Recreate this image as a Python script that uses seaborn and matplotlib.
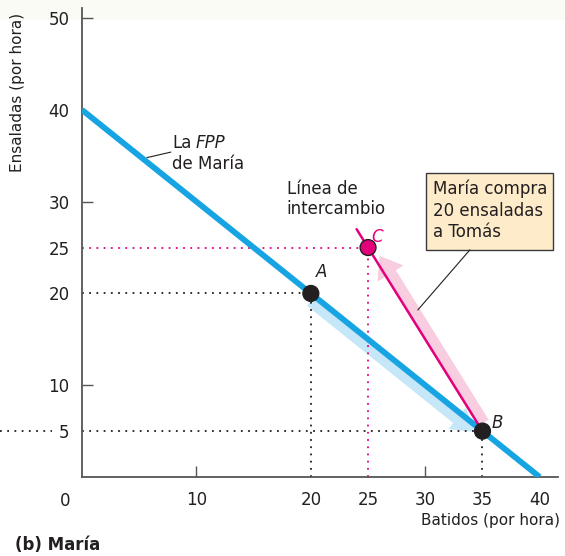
import pandas as pd
import matplotlib.pyplot as plt
import seaborn as sns
from matplotlib.patches import Rectangle

# FPP de María
ppf_batidos = [0, 40]
ppf_ensaladas = [40, 0]

# línea de intercambio (de B hasta un poco más allá de C)
trade_batidos = [35, 24]
trade_ensaladas = [5, 27]

point_names = ['A', 'B', 'C']
point_batidos = [20, 35, 25]
point_ensaladas = [20, 5, 25]

x_ticks = [0, 10, 20, 25, 30, 35, 40]
x_labels = ['', '10', '20', '25', '30', '35', '40']
y_ticks = [5, 10, 20, 25, 30, 40, 50]
y_labels = ['5', '10', '20', '25', '30', '40', '50']

BLUE = '#17a4e2'
BLUE_LIGHT = '#c6e7f7'
MAGENTA = '#e4007c'
PINK_LIGHT = '#f8cde0'
DARK = '#231f20'

sns.set_theme(style='white')
plt.rcParams['font.family'] = ['DejaVu Sans']

fig = plt.figure(figsize=(5.65, 5.56), dpi=100)
fig.patches.append(Rectangle((0, 1 - 20 / 556), 1, 20 / 556, transform=fig.transFigure,
                             facecolor='#fafbf4', edgecolor='none', zorder=-5))
ax = fig.add_axes([82 / 565, 1 - 477 / 556, 476 / 565, 469 / 556])
ax.set_facecolor('none')
ax.set_xlim(0, 41.6)
ax.set_ylim(0, 51.1)

ppf = pd.DataFrame({'batidos': ppf_batidos, 'ensaladas': ppf_ensaladas})
trade = pd.DataFrame({'batidos': trade_batidos, 'ensaladas': trade_ensaladas})
pts = pd.DataFrame({'name': point_names, 'batidos': point_batidos, 'ensaladas': point_ensaladas})

# líneas punteadas de referencia
dot = dict(linestyle=(0, (1, 3)), lw=1.3)
ax.plot([0, 20], [20, 20], color=DARK, **dot)
ax.plot([20, 20], [0, 20], color=DARK, **dot)
ax.plot([0, 35], [5, 5], color=DARK, **dot)
ax.plot([35, 35], [0, 5], color=DARK, **dot)
ax.plot([-7.2, -2.6], [5, 5], color=DARK, clip_on=False, **dot)
ax.plot([0, 25], [25, 25], color=MAGENTA, **dot)
ax.plot([25, 25], [0, 25], color=MAGENTA, **dot)

# flechas sombreadas
ax.annotate('', xy=(34.3, 4.9), xytext=(20.0, 19.2),
            arrowprops=dict(arrowstyle='simple,head_length=1.6,head_width=2.0,tail_width=0.9',
                            mutation_scale=10, color=BLUE_LIGHT, lw=0, shrinkA=0, shrinkB=0),
            zorder=1)
ax.annotate('', xy=(26.0, 24.1), xytext=(35.07, 5.89),
            arrowprops=dict(arrowstyle='simple,head_length=1.5,head_width=2.2,tail_width=0.9',
                            mutation_scale=10, color=PINK_LIGHT, lw=0, shrinkA=0, shrinkB=0),
            zorder=1)

sns.lineplot(data=ppf, x='batidos', y='ensaladas', ax=ax, color=BLUE, lw=4.2,
             sort=False, zorder=3, solid_capstyle='butt')
sns.lineplot(data=trade, x='batidos', y='ensaladas', ax=ax, color=MAGENTA, lw=1.8,
             sort=False, zorder=3)
sns.scatterplot(data=pts, x='batidos', y='ensaladas', hue='name', ax=ax,
                palette={'A': DARK, 'B': DARK, 'C': MAGENTA}, s=130,
                edgecolor=DARK, linewidth=1, legend=False, zorder=5, clip_on=False)

ax.text(20.96, 22.3, 'A', style='italic', fontsize=12, ha='center', va='center', color=DARK)
ax.text(36.3, 5.9, 'B', style='italic', fontsize=12, ha='center', va='center', color=DARK)
ax.text(25.8, 26.1, 'C', style='italic', fontsize=12, ha='center', va='center', color=MAGENTA)

# FPP label
ax.text(7.86, 35.8, 'La', fontsize=12, ha='left', va='baseline', color=DARK)
ax.text(9.96, 35.8, 'FPP', fontsize=12, style='italic', ha='left', va='baseline', color=DARK)
ax.text(7.86, 33.6, 'de María', fontsize=12, ha='left', va='baseline', color=DARK)
ax.plot([5.68, 7.77], [34.8, 35.4], color=DARK, lw=0.8)

ax.text(17.9, 32.4, 'Línea de\nintercambio', fontsize=12, ha='left', va='top',
        color=DARK, linespacing=1.2)

# recuadro
ax.add_patch(Rectangle((30.04, 24.75), 11.09, 8.4, facecolor='#fdebc9',
                       edgecolor='#3a3a3a', lw=1, zorder=4, clip_on=False))
ax.text(30.65, 32.4, 'María compra\n20 ensaladas\na Tomás', fontsize=12, ha='left',
        va='top', color=DARK, linespacing=1.25, zorder=5)
ax.plot([33.9, 29.35], [24.75, 18.2], color=DARK, lw=0.8, zorder=4)

# ejes
for side in ['top', 'right']:
    ax.spines[side].set_visible(False)
for side in ['left', 'bottom']:
    ax.spines[side].set_color('#555555')
    ax.spines[side].set_linewidth(1.3)

ax.xaxis.remove_overlapping_locs = False
ax.yaxis.remove_overlapping_locs = False
ax.set_xticks(x_ticks)
ax.set_xticklabels(x_labels)
ax.set_yticks(y_ticks)
ax.set_yticklabels(y_labels)
ax.set_xticks([10, 30], minor=True)
ax.set_yticks([10, 30, 50], minor=True)
ax.tick_params(which='major', length=0, labelsize=12, labelcolor=DARK)
ax.tick_params(axis='x', which='major', pad=10)
ax.tick_params(axis='y', which='major', pad=9)
ax.tick_params(which='minor', direction='in', length=8, width=1, color='#555555',
               bottom=True, left=True, labelbottom=False, labelleft=False)
ax.set_xlabel('')
ax.set_ylabel('')
ax.annotate('0', xy=(0, 0), xytext=(-12, -11), textcoords='offset points',
            ha='center', va='top', fontsize=12, color=DARK, annotation_clip=False)

fig.text(560 / 565, 1 - 521 / 556, 'Batidos (por hora)', fontsize=11, ha='right',
         va='center', color=DARK)
fig.text(18 / 565, 1 - 92 / 556, 'Ensaladas (por hora)', fontsize=11, rotation=90,
         ha='center', va='center', color=DARK)
fig.text(15 / 565, 1 - 545 / 556, '(b) María', fontsize=12, fontweight='bold',
         ha='left', va='center', color=DARK)

fig.savefig('out.png', dpi=100)
